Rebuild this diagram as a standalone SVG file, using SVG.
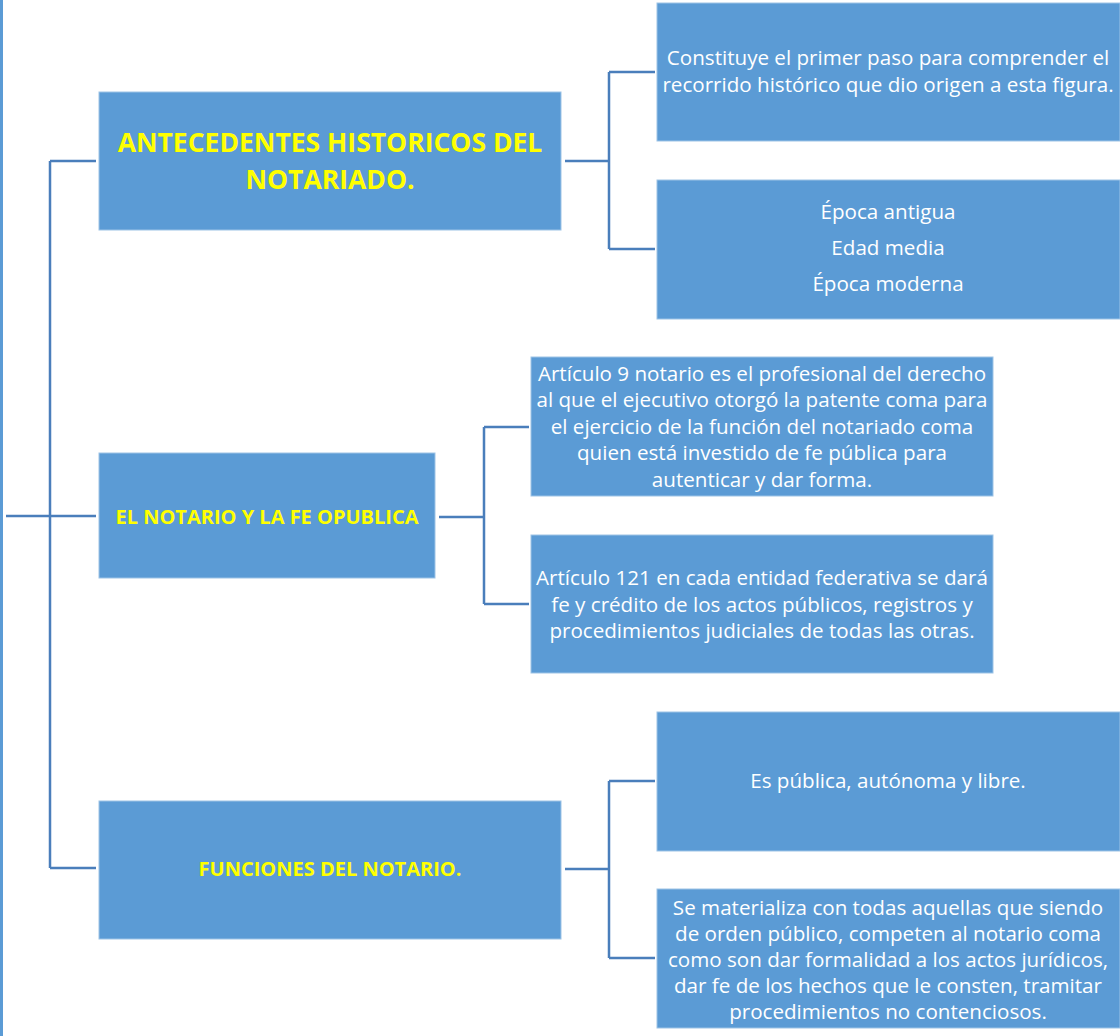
<svg xmlns="http://www.w3.org/2000/svg" width="1120" height="1036" viewBox="0 0 1120 1036">
<style>
.box{fill:#5b9bd5;stroke:#9dc3e6;stroke-width:1}
.t{font-family:"Open Sans","Liberation Sans",Arial,sans-serif;font-size:20.6px;fill:#ffffff;text-anchor:middle}
.h{font-family:"Open Sans","Liberation Sans",Arial,sans-serif;font-weight:bold;fill:#ffff00;text-anchor:middle}
.c{fill:none;stroke:#4a7ebb;stroke-width:2.5}
</style>
<rect x="0" y="0" width="1120" height="1036" fill="#ffffff"/>
<rect x="0" y="0" width="3" height="1036" fill="#5b9bd5"/>
<g id="connectors">
<path class="c" d="M6 516 H96 M50 161 V868 M50 161 H96 M50 868 H96"/>
<path class="c" d="M565 161 H609 M609 72 V249 M609 72 H655 M609 249 H655"/>
<path class="c" d="M439 517 H484 M484 427 V604 M484 427 H529 M484 604 H529"/>
<path class="c" d="M565 869 H609 M609 781 V958 M609 781 H655 M609 958 H655"/>
</g>
<g id="n1">
<rect class="box" x="99" y="92" width="462" height="138"/>
<text class="h" font-size="26.5" x="330" y="152">ANTECEDENTES HISTORICOS DEL</text>
<text class="h" font-size="26.5" x="330" y="189">NOTARIADO.</text>
</g>
<g id="n1a">
<rect class="box" x="657" y="3" width="463" height="138"/>
<text class="t" x="888" y="65">Constituye el primer paso para comprender el</text>
<text class="t" x="888" y="92">recorrido histórico que dio origen a esta figura.</text>
</g>
<g id="n1b">
<rect class="box" x="657" y="180" width="463" height="139"/>
<text class="t" x="888" y="219">Época antigua</text>
<text class="t" x="888" y="255">Edad media</text>
<text class="t" x="888" y="291">Época moderna</text>
</g>
<g id="n2">
<rect class="box" x="99" y="453" width="336" height="125"/>
<text class="h" font-size="20" x="267" y="524">EL NOTARIO Y LA FE OPUBLICA</text>
</g>
<g id="n2a">
<rect class="box" x="531" y="357" width="462" height="139"/>
<text class="t" x="762" y="381">Artículo 9 notario es el profesional del derecho</text>
<text class="t" x="762" y="407">al que el ejecutivo otorgó la patente coma para</text>
<text class="t" x="762" y="434">el ejercicio de la función del notariado coma</text>
<text class="t" x="762" y="460">quien está investido de fe pública para</text>
<text class="t" x="762" y="487">autenticar y dar forma.</text>
</g>
<g id="n2b">
<rect class="box" x="531" y="535" width="462" height="138"/>
<text class="t" x="762" y="585">Artículo 121 en cada entidad federativa se dará</text>
<text class="t" x="762" y="612">fe y crédito de los actos públicos, registros y</text>
<text class="t" x="762" y="638">procedimientos judiciales de todas las otras.</text>
</g>
<g id="n3">
<rect class="box" x="99" y="801" width="462" height="138"/>
<text class="h" font-size="20" x="330" y="876">FUNCIONES DEL NOTARIO.</text>
</g>
<g id="n3a">
<rect class="box" x="657" y="712" width="463" height="139"/>
<text class="t" x="888" y="788">Es pública, autónoma y libre.</text>
</g>
<g id="n3b">
<rect class="box" x="657" y="889" width="463" height="139"/>
<text class="t" x="888" y="915">Se materializa con todas aquellas que siendo</text>
<text class="t" x="888" y="941">de orden público, competen al notario coma</text>
<text class="t" x="888" y="967">como son dar formalidad a los actos jurídicos,</text>
<text class="t" x="888" y="993">dar fe de los hechos que le consten, tramitar</text>
<text class="t" x="888" y="1019">procedimientos no contenciosos.</text>
</g>
</svg>
